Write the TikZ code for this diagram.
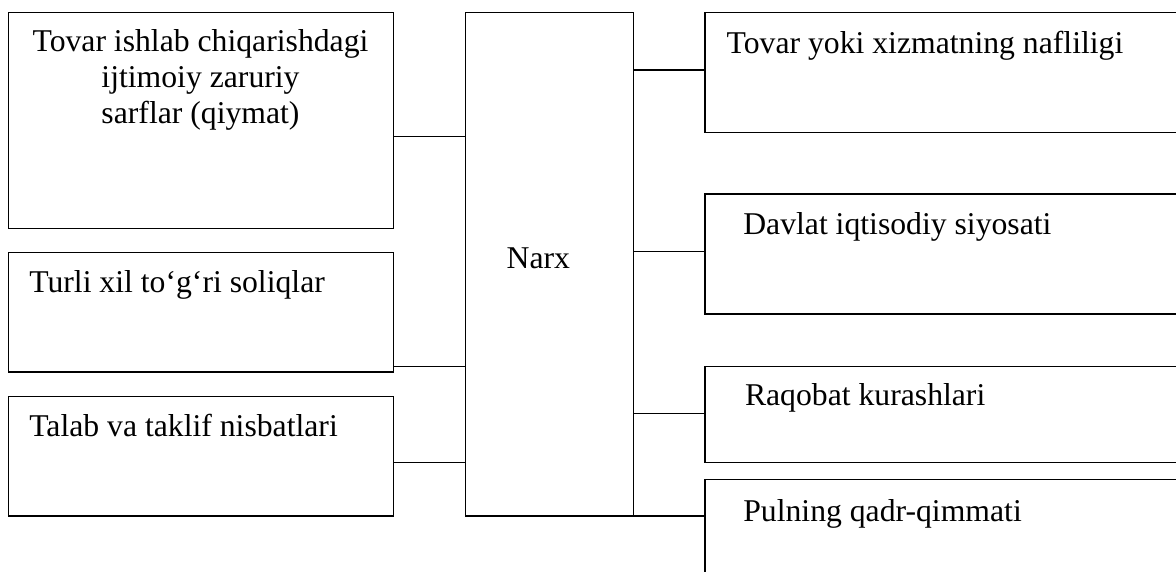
\documentclass[tikz,border=0pt]{standalone}
\usepackage{fontspec}
\setmainfont{Liberation Serif}
\begin{document}
\begin{tikzpicture}[x=1pt,y=-1pt,
  box/.style={draw=black,line width=1.4pt,rectangle,outer sep=0pt,inner sep=0pt,anchor=north west},
  txt/.style={inner sep=0pt,outer sep=0pt,font=\fontsize{31.7}{35.8}\selectfont},
  link/.style={draw=black,line width=1.4pt}]
\useasboundingbox (0,0) rectangle (1176,571);
\clip (0,0) rectangle (1176,571);
\fill[white] (0,0) rectangle (1176,571);
% left boxes
\node[box,minimum width=384.6pt,minimum height=215.6pt] (lb1) at (8.7,12.7) {};
\node[box,minimum width=384.6pt,minimum height=119.3pt] (lb2) at (8.7,252.7) {};
\node[box,minimum width=384.6pt,minimum height=119.3pt] (lb3) at (8.7,396.7) {};
% centre box
\node[box,minimum width=168pt,minimum height=503.3pt] (narx) at (465.3,12.7) {};
% right boxes (run off the right edge)
\node[box,minimum width=520pt,minimum height=119.6pt] (rb1) at (705,12.7) {};
\node[box,minimum width=520pt,minimum height=120pt] (rb2) at (705,194) {};
\node[box,minimum width=520pt,minimum height=95.8pt] (rb3) at (705,366.7) {};
\node[box,minimum width=520pt,minimum height=120pt] (rb4) at (705,479.3) {};
% texts
\node[txt,anchor=base,align=center] (t1) at (200.5,123.3) {Tovar ishlab chiqarishdagi\\ijtimoiy zaruriy\\sarflar (qiymat)};
\node[txt,anchor=base west] (t2) at (29.3,292.7) {Turli xil to‘g‘ri soliqlar};
\node[txt,anchor=base west] (t3) at (29.3,436.7) {Talab va taklif nisbatlari};
\node[txt,anchor=base west] (tn) at (506.7,268.3) {Narx};
\node[txt,anchor=base west] (t4) at (726.7,53.3) {Tovar yoki xizmatning nafliligi};
\node[txt,anchor=base west] (t5) at (743.3,234.3) {Davlat iqtisodiy siyosati};
\node[txt,anchor=base west] (t6) at (745,405.7) {Raqobat kurashlari};
\node[txt,anchor=base west] (t7) at (743.3,521.7) {Pulning qadr-qimmati};
% connectors
\draw[link] (lb1.east |- 0,136.7) -- (narx.west |- 0,136.7);
\draw[link] (lb2.east |- 0,366.7) -- (narx.west |- 0,366.7);
\draw[link] (lb3.east |- 0,462.3) -- (narx.west |- 0,462.3);
\draw[link] (narx.east |- 0,70) -- (rb1.west |- 0,70);
\draw[link] (narx.east |- 0,251.3) -- (rb2.west |- 0,251.3);
\draw[link] (narx.east |- 0,413.3) -- (rb3.west |- 0,413.3);
\draw[link] (narx.south east) -- (rb4.west |- narx.south east);
\end{tikzpicture}
\end{document}
